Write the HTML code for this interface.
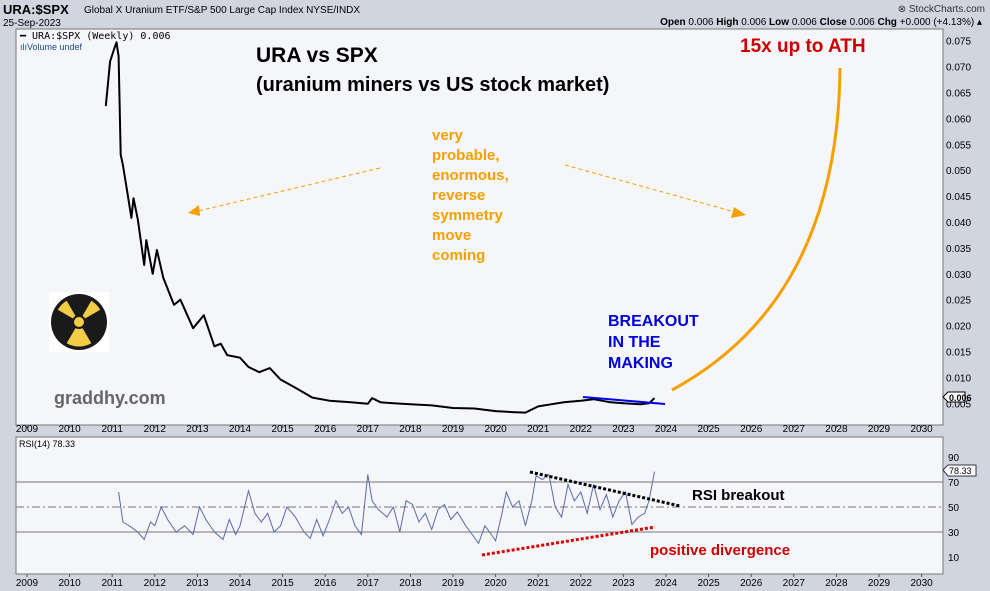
<!DOCTYPE html>
<html><head><meta charset="utf-8"><style>
body{margin:0;width:990px;height:591px;overflow:hidden;background:#cfd4df;font-family:"Liberation Sans",sans-serif}
svg{display:block}
</style></head><body>
<svg width="990" height="591" id="chart" xmlns="http://www.w3.org/2000/svg" font-family="Liberation Sans, sans-serif">
<rect x="0" y="0" width="990" height="591" fill="#d0d5e0"/>
<text x="3" y="14" font-size="13" font-weight="bold" fill="#000">URA:$SPX</text>
<text x="84" y="13" font-size="10" fill="#000">Global X Uranium ETF/S&amp;P 500 Large Cap Index  NYSE/INDX</text>
<text x="3" y="26" font-size="10" fill="#000">25-Sep-2023</text>
<text x="985" y="12" font-size="10" fill="#333" text-anchor="end">⊗ StockCharts.com</text>
<text x="982" y="25" font-size="10" fill="#000" text-anchor="end"><tspan font-weight="bold">Open</tspan> 0.006  <tspan font-weight="bold">High</tspan> 0.006  <tspan font-weight="bold">Low</tspan> 0.006  <tspan font-weight="bold">Close</tspan> 0.006  <tspan font-weight="bold">Chg</tspan> +0.000 (+4.13%) ▴</text>
<rect x="16" y="29" width="927" height="396" fill="#f5f6fa" stroke="#777"/>
<rect x="16" y="437" width="927" height="137" fill="#f5f6fa" stroke="#777"/>
<g id="xaxes"></g>
<g id="yaxis"></g>
<g id="rsiaxis"></g>
<text x="20" y="39" font-size="10" font-family="DejaVu Sans Mono, monospace" fill="#000">━ URA:$SPX (Weekly) 0.006</text>
<text x="20" y="50" font-size="9" fill="#1a4a8a">ılıVolume undef</text>
<text x="19" y="447" font-size="9" fill="#000">RSI(14) 78.33</text>
<g id="rsilines"></g>
<path id="pricepath" fill="none" stroke="#000" stroke-width="2" stroke-linejoin="round"/>
<path id="rsipath" fill="none" stroke="#5a6aa8" stroke-width="1"/>
<text x="256" y="62" font-size="21" font-weight="bold" fill="#000">URA vs SPX</text>
<text x="256" y="91" font-size="20" font-weight="bold" fill="#000">(uranium miners vs US stock market)</text>
<text x="740" y="52" font-size="19" font-weight="bold" fill="#cc0000">15x up to ATH</text>
<g font-size="15" font-weight="bold" fill="#f5a000">
<text x="432" y="140">very</text><text x="432" y="160">probable,</text><text x="432" y="180">enormous,</text><text x="432" y="200">reverse</text><text x="432" y="220">symmetry</text><text x="432" y="240">move</text><text x="432" y="260">coming</text></g>
<line x1="380" y1="168" x2="198" y2="211" stroke="#f5a000" stroke-dasharray="4,3"/>
<polygon points="188,213 199,205 200,216" fill="#f5a000"/>
<line x1="565" y1="165" x2="735" y2="212" stroke="#f5a000" stroke-dasharray="4,3"/>
<polygon points="746,215 734,207 731,218" fill="#f5a000"/>
<path d="M672,390 Q838,300 840,68" fill="none" stroke="#f5a000" stroke-width="3"/>
<g font-size="16" font-weight="bold" fill="#0000dd"><text x="608" y="326">BREAKOUT</text><text x="608" y="347">IN THE</text><text x="608" y="368">MAKING</text></g>
<line x1="583" y1="397" x2="665" y2="404" stroke="#0000ee" stroke-width="2"/>
<g><rect x="49" y="292" width="60" height="60" fill="#fff"/><circle cx="79" cy="322" r="28" fill="#1a1a1a"/>
<path d="M79,322 L100.2,309.8 A24.5,24.5 0 0 0 91.3,300.8 Z M79,322 L66.7,300.8 A24.5,24.5 0 0 0 57.8,309.8 Z M79,322 L66.7,343.2 A24.5,24.5 0 0 0 91.3,343.2 Z" fill="#f2cc44"/><circle cx="79" cy="322" r="6" fill="#f2cc44" stroke="#1a1a1a" stroke-width="2"/></g>
<text x="54" y="404" font-size="18" font-weight="bold" fill="#666">graddhy.com</text>
<line x1="530" y1="472" x2="680" y2="506" stroke="#000" stroke-width="3" stroke-dasharray="3,2"/>
<line x1="482" y1="555" x2="655" y2="527" stroke="#dd0000" stroke-width="3" stroke-dasharray="3,2"/>
<text x="692" y="500" font-size="15" font-weight="bold" fill="#000">RSI breakout</text>
<text x="650" y="555" font-size="15" font-weight="bold" fill="#cc0000">positive divergence</text>
<g><polygon points="943,397 948,392 965,392 965,402 948,402" fill="#fff" stroke="#000"/><text x="949" y="401" font-size="9" font-weight="bold">0.006</text></g>
<g><polygon points="943,470 948,465 976,465 976,476 948,476" fill="#fff" stroke="#334"/><text x="949" y="474" font-size="9">78.33</text></g>
</svg>
<script>
const priceYears=[2010.85,2010.95,2011.05,2011.1,2011.15,2011.2,2011.25,2011.35,2011.45,2011.5,2011.6,2011.75,2011.8,2011.95,2012.05,2012.2,2012.45,2012.6,2012.9,2013.15,2013.4,2013.55,2013.7,2014.0,2014.2,2014.45,2014.7,2014.95,2015.3,2015.7,2016.1,2016.6,2017.0,2017.1,2017.3,2017.6,2018.0,2018.5,2019.0,2019.5,2020.0,2020.4,2020.7,2021.0,2021.3,2021.6,2022.0,2022.3,2022.7,2023.0,2023.4,2023.6,2023.73];
const priceValues=[0.0624,0.071,0.0735,0.0747,0.072,0.053,0.051,0.046,0.0408,0.0446,0.0405,0.0317,0.0365,0.030,0.0346,0.0292,0.024,0.025,0.0195,0.022,0.016,0.0165,0.0143,0.0138,0.0120,0.011,0.0118,0.0096,0.0080,0.0061,0.0055,0.0052,0.0049,0.0060,0.0052,0.0050,0.0048,0.0046,0.0041,0.0040,0.0035,0.0033,0.0032,0.0044,0.0048,0.0052,0.0055,0.0058,0.0052,0.0050,0.0048,0.0050,0.0060];
const rsiYears=[2011.15,2011.25,2011.4,2011.6,2011.75,2011.9,2012.0,2012.15,2012.3,2012.5,2012.7,2012.9,2013.05,2013.2,2013.4,2013.6,2013.75,2013.9,2014.0,2014.2,2014.35,2014.5,2014.65,2014.8,2014.95,2015.1,2015.3,2015.5,2015.65,2015.8,2015.95,2016.1,2016.25,2016.4,2016.55,2016.7,2016.85,2017.0,2017.1,2017.25,2017.45,2017.6,2017.75,2017.9,2018.05,2018.2,2018.35,2018.5,2018.65,2018.8,2018.95,2019.1,2019.3,2019.45,2019.6,2019.75,2019.9,2020.0,2020.15,2020.25,2020.4,2020.55,2020.7,2020.85,2020.95,2021.1,2021.25,2021.4,2021.55,2021.7,2021.85,2022.0,2022.15,2022.3,2022.45,2022.6,2022.75,2022.9,2023.05,2023.2,2023.35,2023.5,2023.6,2023.73];
const rsiValues=[62,38,35,30,24,38,35,50,40,30,35,28,50,40,30,24,40,28,35,63,45,38,45,30,35,50,42,30,25,40,27,40,55,45,50,35,28,76,55,48,42,50,30,55,52,38,45,32,48,52,40,46,35,28,21,35,28,23,45,62,50,55,35,55,75,72,76,50,42,68,55,62,45,68,48,60,42,55,62,36,42,45,55,78.33];
const yearTicks=[2009,2010,2011,2012,2013,2014,2015,2016,2017,2018,2019,2020,2021,2022,2023,2024,2025,2026,2027,2028,2029,2030];
const priceTicks=[0.075,0.070,0.065,0.060,0.055,0.050,0.045,0.040,0.035,0.030,0.025,0.020,0.015,0.010,0.005];
const rsiTicks=[90,70,50,30,10];
const NS='http://www.w3.org/2000/svg';
const xs=y=>27+(y-2009)*42.6;
const yp=v=>40.7+(0.075-v)/0.005*25.9;
const yr=v=>482-(v-70)*1.25;
function mk(tag,parent,attrs){const e=document.createElementNS(NS,tag);for(const k in attrs)e.setAttribute(k,attrs[k]);parent.appendChild(e);return e;}
const xa=document.getElementById('xaxes');
yearTicks.forEach(t=>{[432,586].forEach(yy=>{
const tx=mk('text',xa,{x:xs(t),y:yy,'font-size':10,'text-anchor':'middle',fill:'#000'});tx.textContent=t;

});
[425,574].forEach(b=>{const l=mk('line',xa,{x1:xs(t),x2:xs(t),y1:b,y2:b+3,stroke:'#555'});

});});
const ya=document.getElementById('yaxis');
priceTicks.forEach(t=>{const tx=mk('text',ya,{x:946,y:yp(t)+4,'font-size':10,fill:'#000'});tx.textContent=t.toFixed(3);

});
const ra=document.getElementById('rsiaxis');const rl=document.getElementById('rsilines');
rsiTicks.forEach(t=>{const tx=mk('text',ra,{x:948,y:yr(t)+4,'font-size':10,fill:'#000'});tx.textContent=t;

});
[70,50,30].forEach(t=>{const l=mk('line',rl,{x1:16,x2:943,y1:yr(t),y2:yr(t),stroke:'#777','stroke-dasharray':t==50?'8,3,2,3':'none'});

});
document.getElementById('pricepath').setAttribute('d',priceYears.map((y,i)=>(i?'L':'M')+xs(y).toFixed(1)+','+yp(priceValues[i]).toFixed(1)).join(''));
document.getElementById('rsipath').setAttribute('d',rsiYears.map((y,i)=>(i?'L':'M')+xs(y).toFixed(1)+','+yr(rsiValues[i]).toFixed(1)).join(''));
</script>
</body></html>
